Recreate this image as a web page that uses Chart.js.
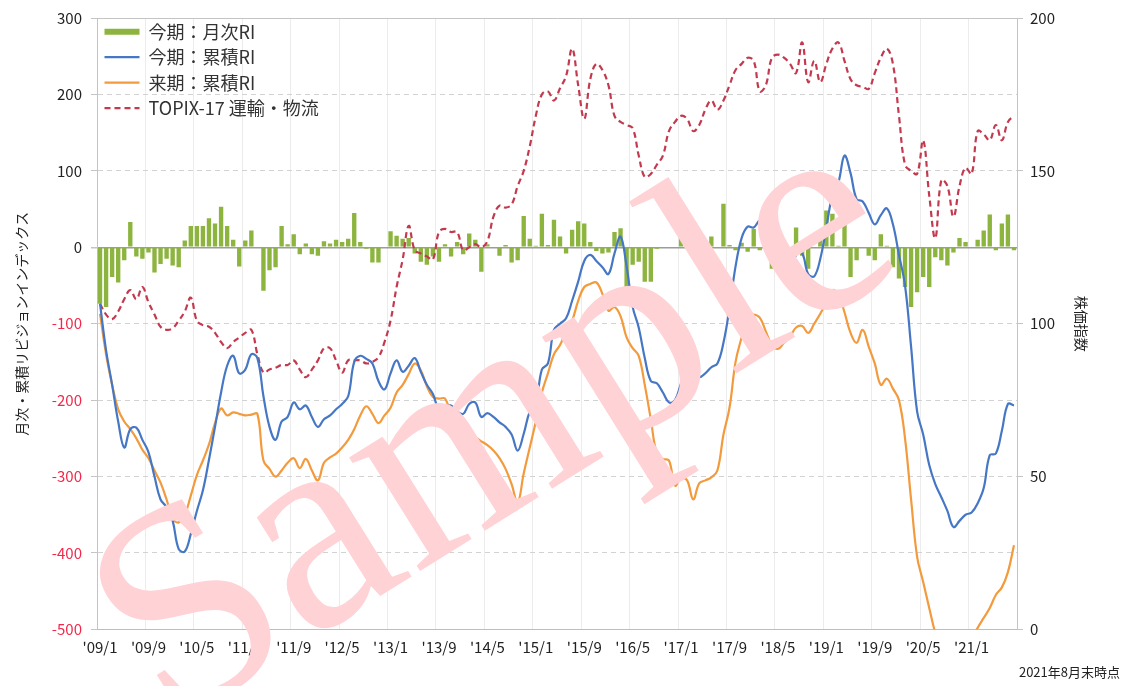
<!DOCTYPE html>
<html>
<head>
<meta charset="utf-8">
<script src="https://cdn.jsdelivr.net/npm/chart.js@4.4.1/dist/chart.umd.min.js"></script>
<style>
  html, body { margin: 0; padding: 0; background: #fff; }
</style>
</head>
<body>
<canvas id="riChart" width="1124" height="686"></canvas>
<script>
// 月次ラベル '09/1 ... '21/8
const months = [];
for (let y = 2009; y <= 2021; y++) {
  for (let m = 1; m <= 12; m++) {
    if (y === 2021 && m > 8) break;
    months.push("'" + String(y % 100).padStart(2, '0') + '/' + m);
  }
}

const monthlyRI = [
  -74, -78, -39, -46, -17, 33, -12, -15, -7, -33,
  -22, -15, -24, -26, 9, 28, 28, 28, 38, 31,
  53, 28, 10, -25, 9, 22, 1, -57, -30, -26,
  28, 4, 17, -9, 5, -9, -11, 8, 5, 10,
  7, 11, 45, 7, -2, -20, -20, 0, 21, 15,
  11, 12, -8, -19, -23, -12, -19, 4, -12, 7,
  -9, 18, 10, -32, 4, -1, -11, 3, -20, -17,
  41, 11, 2, 44, 3, 36, 14, -8, 23, 34,
  31, 7, -5, -8, -7, 20, 25, -58, -23, -19,
  -45, -45, -2, 1, 0, -1, 29, 11, 0, -14,
  0, 14, 0, 57, 3, -4, 6, -6, 24, -4,
  2, -28, -11, -3, 0, 26, -11, -28, 0, 20,
  48, 44, 2, 35, -39, -17, 0, -11, -17, 17,
  2, -26, -41, -52, -78, -59, -39, -52, -13, -17,
  -24, -7, 12, 7, 0, 10, 22, 43, -4, 31,
  43, -4
];

const cumRI = [
  -74, -135, -180, -228, -262, -238, -236, -252, -268, -300,
  -330, -340, -358, -395, -398, -375, -345, -318, -278, -235,
  -190, -155, -142, -165, -160, -140, -145, -195, -235, -252,
  -228, -222, -203, -212, -207, -222, -235, -225, -220, -212,
  -205, -195, -150, -142, -146, -152, -175, -186, -165, -148,
  -163, -155, -145, -163, -180, -192, -212, -210, -207, -215,
  -218, -205, -203, -222, -217, -222, -229, -235, -245, -266,
  -244, -215, -205, -160, -152, -108, -100, -93, -70, -45,
  -18, -10, -18, -26, -35, -8, 14, -25, -78, -105,
  -145, -175, -178, -190, -203, -200, -178, -160, -163, -170,
  -165, -157, -152, -125, -80, -25, 12, 27, 26, 35,
  33, 5, -25, -31, -32, -10, -8, -35, -38, -15,
  26, 68, 85, 120, 97, 63, 60, 45, 30, 42,
  51, 30, -10, -50, -130, -215, -245, -285, -310, -327,
  -345, -366, -358, -350, -347, -335, -315, -272, -270, -240,
  -205, -207
];

const nextCumRI = [
  -87, -140, -180, -212, -228, -238, -250, -265, -276, -292,
  -308, -330, -355, -360, -350, -325, -298, -279, -258, -230,
  -211, -220, -216, -218, -220, -219, -218, -279, -290, -300,
  -292, -282, -276, -289, -277, -292, -305, -282, -275, -270,
  -262, -252, -238, -220, -208, -218, -230, -220, -210, -190,
  -180, -166, -152, -161, -182, -196, -198, -198, -220, -242,
  -250, -262, -250, -254, -259, -266, -276, -290, -310, -334,
  -296, -262, -228, -190, -165, -140, -128, -110, -96, -70,
  -52, -48, -46, -61, -83, -78, -90, -118, -132, -142,
  -180, -225, -270, -277, -279, -312, -302, -305, -330, -309,
  -305, -301, -292, -245, -210, -150, -118, -90, -88, -92,
  -110, -128, -133, -125, -117, -105, -103, -112, -100, -87,
  -72, -56, -62, -85, -112, -125, -108, -130, -152, -180,
  -172, -185, -200, -250, -330, -405, -438, -472, -505, -530,
  -545, -550, -545, -535, -515, -498, -485, -472, -455, -445,
  -425, -390
];

const topix = [
  106.5, 103, 101.5, 104, 108, 111, 108, 112, 107, 103,
  99, 98, 98.5, 101, 104, 108.5, 101, 99.5, 99, 97,
  94, 92, 94, 95.5, 97, 98, 90, 84, 85, 85.6,
  86.5, 86.5, 88, 85, 82.5, 85, 88, 92, 92, 88,
  84, 88, 88, 88, 87, 87.5, 89, 94, 101, 112,
  121, 132, 124, 123, 122, 121, 130, 131, 130, 130,
  124, 125, 126, 125, 127, 135, 138.6, 138, 139, 145,
  150, 158, 168, 175, 176, 173, 177, 181, 190, 178,
  167, 180, 185, 183, 178, 168, 166, 165, 164, 155,
  148, 149, 152, 155, 163, 166, 168, 167, 163, 165,
  170, 173, 170, 173, 178, 183, 185, 187, 186, 176,
  178, 187, 188, 187, 185, 182, 192, 179, 186, 179,
  185, 190, 192, 186, 180, 178, 177.5, 176.8, 182, 187,
  190, 185, 168, 152, 150, 149, 160, 142, 128, 147,
  145, 135, 145, 151, 149, 163, 162, 160, 165, 160,
  166, 168
];

const leftTicks = [-500, -400, -300, -200, -100, 0, 100, 200, 300];
const rightTicks = [0, 50, 100, 150, 200];

const FONT = "'Noto Sans CJK JP', 'Noto Sans', sans-serif";
Chart.defaults.font.family = FONT;
Chart.defaults.color = '#222';

// Sample 透かし
const watermark = {
  id: 'watermark',
  afterDraw(chart) {
    const ctx = chart.ctx;
    ctx.save();
    ctx.translate(498, 432);
    ctx.rotate(-32 * Math.PI / 180);
    ctx.font = "292px 'Liberation Serif', serif";
    ctx.fillStyle = '#ffd2d6';
    ctx.textAlign = 'center';
    ctx.textBaseline = 'middle';
    ctx.fillText('Sample', 0, 0);
    ctx.restore();
  }
};

const gridDash = (c) =>
  c.tick && c.tick.value !== 0 && c.tick.value !== 300 ? [5, 4] : [];

new Chart(document.getElementById('riChart'), {
  type: 'bar',
  data: {
    labels: months,
    datasets: [
      {
        type: 'bar',
        label: '今期：月次RI',
        data: monthlyRI,
        backgroundColor: '#8cb43f',
        barPercentage: 0.72,
        categoryPercentage: 1,
        yAxisID: 'y',
        order: 4,
      },
      {
        type: 'line',
        label: '今期：累積RI',
        data: cumRI,
        borderColor: '#4677c4',
        backgroundColor: '#4677c4',
        borderWidth: 2.2,
        pointRadius: 0,
        tension: 0.4,
        yAxisID: 'y',
        order: 1,
      },
      {
        type: 'line',
        label: '来期：累積RI',
        data: nextCumRI,
        borderColor: '#f39a3d',
        backgroundColor: '#f39a3d',
        borderWidth: 2.2,
        pointRadius: 0,
        tension: 0.4,
        yAxisID: 'y',
        order: 2,
      },
      {
        type: 'line',
        label: 'TOPIX-17 運輸・物流',
        data: topix,
        borderColor: '#c33a4f',
        backgroundColor: '#c33a4f',
        borderWidth: 2.2,
        borderDash: [6, 4],
        pointRadius: 0,
        tension: 0.4,
        yAxisID: 'y1',
        order: 3,
      },
    ],
  },
  options: {
    responsive: false,
    animation: false,
    layout: { padding: { top: 17, left: 0, right: 4, bottom: 0 } },
    plugins: {
      tooltip: { enabled: false },
      legend: {
        position: 'chartArea',
        align: 'start',
        title: { display: true, text: ' ', font: { size: 1 }, padding: { top: 0, bottom: 14 } },
        labels: {
          usePointStyle: true,
          pointStyleWidth: 35,
          boxHeight: 6,
          padding: 7.5,
          color: '#333',
          font: { size: 18 },
          sort: (a, b) => a.datasetIndex - b.datasetIndex,
          generateLabels: (chart) =>
            Chart.defaults.plugins.legend.labels.generateLabels(chart).map((it) => {
              const ds = chart.data.datasets[it.datasetIndex];
              const isBar = ds.type === 'bar';
              return Object.assign(it, {
                pointStyle: isBar ? 'rect' : 'line',
                lineWidth: isBar ? 0 : ds.borderWidth,
                lineDash: ds.borderDash || [],
                strokeStyle: isBar ? ds.backgroundColor : ds.borderColor,
                fillStyle: ds.backgroundColor,
              });
            }),
        },
      },
      subtitle: {
        display: true,
        text: '2021年8月末時点',
        position: 'bottom',
        align: 'end',
        color: '#222',
        font: { size: 13 },
        padding: { top: 0, bottom: 6 },
      },
    },
    scales: {
      x: {
        grid: {
          color: (c) => (c.index % 8 === 0 ? '#ececec' : 'rgba(0,0,0,0)'),
          drawTicks: false,
        },
        border: { color: '#bdbdbd' },
        ticks: {
          autoSkip: false,
          maxRotation: 0,
          padding: 9,
          color: '#222',
          font: { size: 15 },
          callback: (v, i) => (i % 8 === 0 ? months[i] : ''),
        },
        afterFit: (s) => { s.height = 35; },
      },
      y: {
        position: 'left',
        min: leftTicks[0],
        max: leftTicks[leftTicks.length - 1],
        afterBuildTicks: (s) => { s.ticks = leftTicks.map((v) => ({ value: v })); },
        ticks: {
          padding: 9,
          font: { size: 15 },
          color: (c) => (c.tick.value < 0 ? '#f4274a' : '#222'),
        },
        grid: {
          color: (c) => (c.tick.value === 0 ? '#9c9c9c' : c.tick.value === 300 ? '#c4c4c4' : '#d2d2d2'),
          lineWidth: (c) => (c.tick.value === 0 ? 1.5 : 1),
          tickLength: 6,
          tickColor: '#c4c4c4',
          tickBorderDash: [],
        },
        border: { color: '#c4c4c4', dash: gridDash },
        title: {
          display: true,
          text: '月次・累積リビジョンインデックス',
          color: '#222',
          font: { size: 14 },
          padding: { top: 13, bottom: 0 },
        },
        afterFit: (s) => { s.width = 97; },
      },
      y1: {
        position: 'right',
        min: rightTicks[0],
        max: rightTicks[rightTicks.length - 1],
        afterBuildTicks: (s) => { s.ticks = rightTicks.map((v) => ({ value: v })); },
        ticks: { padding: 7, font: { size: 15 }, color: '#222' },
        grid: { drawOnChartArea: false, tickLength: 6, color: '#c4c4c4' },
        border: { color: '#c4c4c4' },
        title: {
          display: true,
          text: '株価指数',
          color: '#222',
          font: { size: 14 },
          padding: { top: 30, bottom: 0 },
        },
        afterFit: (s) => { s.width = 103; },
      },
    },
  },
  plugins: [watermark],
});
</script>
</body>
</html>
